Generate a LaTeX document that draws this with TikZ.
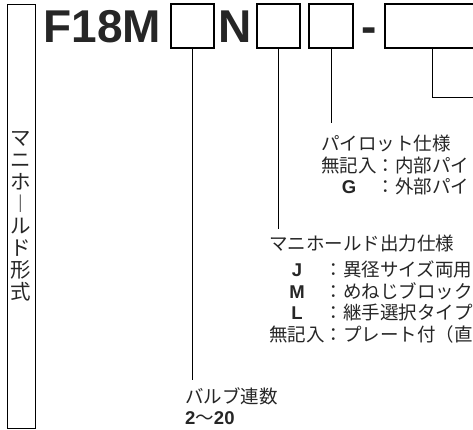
\documentclass[tikz,border=0pt]{standalone}
\usepackage{fontspec}
\setmainfont{Liberation Sans}
\newfontfamily\jp{Noto Sans CJK JP}
\usetikzlibrary{positioning,calc}

\tikzset{
  codebox/.style={draw, line width=1.6pt, minimum height=43.5pt, inner sep=0pt},
  codechar/.style={anchor=base west, inner sep=0pt, font=\fontsize{46}{46}\selectfont\bfseries},
  legend/.style={anchor=base west, inner sep=0pt, align=left, font=\jp\fontsize{18.5}{19}\selectfont},
  leader/.style={line width=0.9pt}
}

\begin{document}
\begin{tikzpicture}[x=1pt, y=-1pt, text=black!85]
  \clip (0,0) rectangle (473,430);
  \fill[white] (0,0) rectangle (473,430);

  % model name frame on the left
  \node (form) [draw, line width=0.9pt, minimum width=28pt, minimum height=423.5pt, inner sep=0pt,
    align=center, font=\jp\fontsize{20.5}{22}\selectfont] at (21,216.3)
    {マ\\ニ\\ホ\\︱\\ル\\ド\\形\\式};

  % code line
  \node (base) [codechar] at (43.3,43) {F18M};
  \node (valves) [codebox, minimum width=43pt] at (192.5,26) {};
  \node (nchar) [codechar] at (218.6,43) {N};
  \node (outlet) [codebox, minimum width=43pt] at (278.5,26) {};
  \node (pilot) [codebox, minimum width=44pt] at (331,26) {};
  \node (dash) [codechar] at (361,43) {-};
  \node (option) [codebox, minimum width=94pt] at (432,26) {};

  % legends
  \node (pilottext) [legend] at (321,150.5) {%
    \begin{tabular}[t]{@{}c@{}l@{}}
      \multicolumn{2}{@{}l@{}}{パイロット仕様}\\[1pt]
      無記入 & ：内部パイ\\
      {\rmfamily\bfseries G} & ：外部パイ
    \end{tabular}};
  \node (outlettext) [legend] at (269,250.5) {%
    \begin{tabular}[t]{@{}c@{}l@{}}
      \multicolumn{2}{@{}l@{}}{マニホールド出力仕様}\\[5pt]
      {\rmfamily\bfseries J} & ：異径サイズ両用\\
      {\rmfamily\bfseries M} & ：めねじブロック\\
      {\rmfamily\bfseries L} & ：継手選択タイプ\\
      無記入 & ：プレート付（直
    \end{tabular}};
  \node (valvestext) [legend] at (185,403) {%
    \begin{tabular}[t]{@{}l@{}}
      バルブ連数\\[2pt]
      {\rmfamily\bfseries 2}～{\rmfamily\bfseries 20}
    \end{tabular}};

  % leaders
  \coordinate (valvesend) at (valves.south |- 0,380);
  \coordinate (outletend) at (outlet.south |- 0,229);
  \coordinate (pilotend) at (pilot.south |- 0,123);
  \coordinate (optionend) at (480,97);
  \draw[leader] (valves.south) -- (valvesend);
  \draw[leader] (outlet.south) -- (outletend);
  \draw[leader] (pilot.south) -- (pilotend);
  \draw[leader] (option.south) |- (optionend);
\end{tikzpicture}
\end{document}
